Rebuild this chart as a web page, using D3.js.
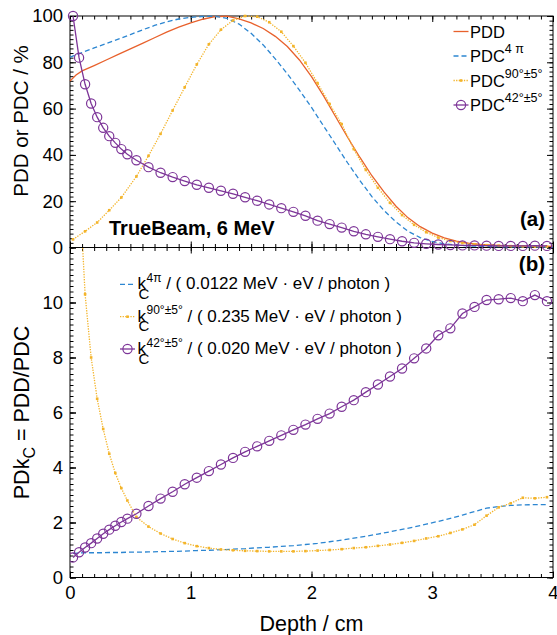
<!DOCTYPE html>
<html><head><meta charset="utf-8">
<script src="https://cdn.jsdelivr.net/npm/d3@7"></script>
<style>
body{margin:0;background:#fff}
svg{display:block;font-family:"Liberation Sans",Arial,Helvetica,sans-serif}
</style></head><body>
<svg id="c" width="557" height="635"></svg>
<script>
// ---------- data ----------
const depthLine=[0,0.05,0.1,0.2,0.3,0.4,0.5,0.6,0.7,0.8,0.9,1.0,1.1,1.2,1.3,1.4,1.5,1.6,1.7,1.8,1.9,2.0,2.1,2.2,2.3,2.4,2.5,2.6,2.7,2.8,2.9,3.0,3.1,3.2,3.3,3.4,3.5,3.6,3.8,4.0];
const pdd=[71.9,74.5,76.3,78.6,81.0,83.4,85.8,88.2,90.6,93.0,95.2,97.0,98.6,99.7,99.9,98.8,97.0,94.6,91.2,86.8,81.0,73.8,65.5,56.5,47.5,39.0,31.0,24.0,17.8,12.8,9.0,6.2,4.2,2.8,1.9,1.3,1.0,0.8,0.6,0.5];
const pdc4pi=[82.2,83.2,84.2,86.2,88.1,90.0,92.0,94.0,95.9,97.5,98.7,99.4,99.8,99.9,99.0,96.5,92.5,87.5,81.5,75.0,68.0,60.5,52.5,44.5,36.5,29.0,22.0,16.0,11.0,7.0,4.3,2.6,1.6,1.0,0.7,0.5,0.4,0.3,0.25,0.2];
const depth90=[0.025,0.125,0.225,0.325,0.425,0.55,0.65,0.75,0.85,0.95,1.05,1.15,1.25,1.35,1.45,1.55,1.65,1.75,1.85,1.95,2.05,2.15,2.25,2.35,2.45,2.55,2.65,2.75,2.85,2.95,3.05,3.15,3.25,3.35,3.45,3.55,3.65,3.75,3.85,3.95];
const pdc90=[3.5,7.0,10.8,16.1,21.6,30.7,39.6,49.1,59.2,69.2,79.1,87.8,94.1,98.1,100,99.7,97.3,93.2,87.0,79.8,71.0,62.0,53.3,42.5,33.5,25.8,19.3,14.0,9.8,6.6,4.3,2.8,1.9,1.4,1.0,0.8,0.6,0.5,0.4,0.4];
const depthBins=[0.025,0.075,0.125,0.175,0.225,0.275,0.325,0.375,0.425,0.475,0.55,0.65,0.75,0.85,0.95,1.05,1.15,1.25,1.35,1.45,1.55,1.65,1.75,1.85,1.95,2.05,2.15,2.25,2.35,2.45,2.55,2.65,2.75,2.85,2.95,3.05,3.15,3.25,3.35,3.45,3.55,3.65,3.75,3.85,3.95];
const pdc42=[100,82.0,70.5,62.2,56.3,51.7,48.1,45.2,42.5,40.3,37.7,34.7,32.3,30.4,28.7,27.1,25.8,24.5,23.2,21.7,20.2,18.6,17.0,15.4,13.7,11.6,10.1,8.6,7.0,5.7,4.6,3.6,2.7,2.0,1.6,1.3,1.1,0.9,0.9,0.8,0.7,0.7,0.7,0.8,0.7];
const k4pi=[0.88,0.89,0.9,0.9,0.9,0.9,0.91,0.91,0.91,0.92,0.92,0.93,0.94,0.95,0.96,0.98,0.99,1.01,1.03,1.05,1.08,1.1,1.13,1.16,1.2,1.24,1.3,1.36,1.43,1.5,1.58,1.66,1.75,1.84,1.94,2.04,2.15,2.27,2.4,2.52,2.58,2.62,2.64,2.65,2.65];
const k90=[22,14.5,10.3,8.0,6.5,5.4,4.5,3.8,3.25,2.8,2.2,1.85,1.6,1.4,1.25,1.14,1.07,1.02,0.99,0.97,0.96,0.95,0.95,0.95,0.96,0.98,1.0,1.03,1.07,1.1,1.15,1.2,1.26,1.33,1.42,1.5,1.62,1.75,1.92,2.25,2.55,2.7,2.9,2.88,2.92];
const k42=[0.73,0.92,1.09,1.25,1.42,1.59,1.74,1.88,2.02,2.14,2.32,2.60,2.87,3.12,3.39,3.63,3.87,4.11,4.35,4.57,4.77,4.97,5.17,5.37,5.56,5.77,5.96,6.21,6.45,6.74,7.02,7.31,7.60,7.97,8.33,8.81,9.06,9.60,9.84,10.09,10.12,10.16,10.05,10.27,10.05];
const xTicks=[0,1,2,3,4];
const yTopTicks=[0,20,40,60,80,100];
const yBotTicks=[0,2,4,6,8,10];
const topLegend=["PDD","PDC","PDC","PDC"];
const topLegendSup=["","4 \u03c0","90\u00b0\u00b15\u00b0","42\u00b0\u00b15\u00b0"];
const botLegendSup=["4\u03c0","90\u00b0\u00b15\u00b0","42\u00b0\u00b15\u00b0"];
const botLegendNorm=["0.0122","0.235","0.020"];

// ---------- layout ----------
const C={pdd:"#e8612c",blue:"#2c86d1",yel:"#f3b42a",pur:"#7d3598"};
const L=70,R=553,T1=16,B1=247.5,T2=247.5,B2=577.5;
const svg=d3.select("#c");
const x=d3.scaleLinear().domain([0,4]).range([L,R]);
const yA=d3.scaleLinear().domain([0,100]).range([B1,T1]);
const yB=d3.scaleLinear().domain([0,12]).range([B2,T2]);
const MAJ=6,MIN=3.5;

svg.append("defs").append("clipPath").attr("id","clipB")
  .append("rect").attr("x",L).attr("y",T2).attr("width",R-L).attr("height",B2-T2);

function axis(fn,scale,vals,size,tr,fmt,pad,fs){
  const a=fn(scale).tickValues(vals).tickSize(-size).tickPadding(pad||0).tickFormat(fmt||(()=>""));
  const g=svg.append("g").attr("transform",tr).call(a);
  g.select(".domain").remove();
  g.selectAll("line").attr("stroke","#000").attr("stroke-width",1);
  g.attr("font-family",null).attr("font-size",fs||18.5);
  g.selectAll("text").attr("fill","#000");
  return g;
}
const xMinor=d3.range(0,41).map(i=>i/10);
const yAMinor=d3.range(0,51).map(i=>i*2);
const yBMinor=d3.range(0,61).map(i=>i*0.2);
const yBMajor=[0,2,4,6,8,10,12];
// top panel
axis(d3.axisLeft,yA,yTopTicks,MAJ,`translate(${L},0)`,d3.format("d"),7);
axis(d3.axisLeft,yA,yAMinor,MIN,`translate(${L},0)`);
axis(d3.axisRight,yA,yTopTicks,MAJ,`translate(${R},0)`);
axis(d3.axisRight,yA,yAMinor,MIN,`translate(${R},0)`);
axis(d3.axisTop,x,xTicks,MAJ,`translate(0,${T1})`);
axis(d3.axisTop,x,xMinor,MIN,`translate(0,${T1})`);
axis(d3.axisBottom,x,xTicks,MAJ,`translate(0,${B1})`);
axis(d3.axisBottom,x,xMinor,MIN,`translate(0,${B1})`);
// bottom panel
axis(d3.axisLeft,yB,yBotTicks,MAJ,`translate(${L},0)`,d3.format("d"),7);
axis(d3.axisLeft,yB,yBMajor,MAJ,`translate(${L},0)`);
axis(d3.axisLeft,yB,yBMinor,MIN,`translate(${L},0)`);
axis(d3.axisRight,yB,yBMajor,MAJ,`translate(${R},0)`);
axis(d3.axisRight,yB,yBMinor,MIN,`translate(${R},0)`);
axis(d3.axisTop,x,xTicks,MAJ,`translate(0,${T2})`);
axis(d3.axisTop,x,xMinor,MIN,`translate(0,${T2})`);
axis(d3.axisBottom,x,xTicks,MAJ,`translate(0,${B2})`,d3.format("d"),8.4);
axis(d3.axisBottom,x,xMinor,MIN,`translate(0,${B2})`);

// frames
svg.append("rect").attr("x",L).attr("y",T1).attr("width",R-L).attr("height",B1-T1)
  .attr("fill","none").attr("stroke","#000").attr("stroke-width",1);
svg.append("rect").attr("x",L).attr("y",T2).attr("width",R-L).attr("height",B2-T2)
  .attr("fill","none").attr("stroke","#000").attr("stroke-width",1);

// ---------- series ----------
function series(xs,ys,yS,style,clip){
  const pts=xs.map((d,i)=>[d,ys[i]]);
  const g=svg.append("g");
  if(clip) g.attr("clip-path","url(#clipB)");
  g.append("path").datum(pts)
    .attr("d",d3.line().x(d=>x(d[0])).y(d=>yS(d[1])))
    .attr("fill","none").attr("stroke",style.color).attr("stroke-width",1.3)
    .attr("stroke-dasharray",style.dash||null);
  if(style.marker==="circle"){
    g.selectAll("circle").data(pts).join("circle")
      .attr("cx",d=>x(d[0])).attr("cy",d=>yS(d[1])).attr("r",4.6)
      .attr("fill","none").attr("stroke",style.color).attr("stroke-width",1.2);
  } else if(style.marker==="dot"){
    g.selectAll("rect").data(pts).join("rect")
      .attr("x",d=>x(d[0])-1.3).attr("y",d=>yS(d[1])-1.3).attr("width",2.6).attr("height",2.6)
      .attr("fill",style.color);
  }
}
const S={
  pdd:{color:C.pdd},
  blue:{color:C.blue,dash:"5,3"},
  yel:{color:C.yel,dash:"1.3,1.3",marker:"dot"},
  pur:{color:C.pur,marker:"circle"}
};
series(depthLine,pdd,yA,S.pdd);
series(depthLine,pdc4pi,yA,S.blue);
series(depth90,pdc90,yA,S.yel);
series(depthBins,pdc42,yA,S.pur);
series(depthBins,k4pi,yB,S.blue,true);
series(depthBins,k90,yB,S.yel,true);
series(depthBins,k42,yB,S.pur,true);

// ---------- legends ----------
function legendSym(cx,cy,style){
  svg.append("line").attr("x1",cx-7.5).attr("x2",cx+7.5).attr("y1",cy).attr("y2",cy)
    .attr("stroke",style.color).attr("stroke-width",1.3).attr("stroke-dasharray",style.dash||null);
  if(style.marker==="circle")
    svg.append("circle").attr("cx",cx).attr("cy",cy).attr("r",4.6).attr("fill","none")
      .attr("stroke",style.color).attr("stroke-width",1.2);
  if(style.marker==="dot")
    svg.append("rect").attr("x",cx-1.3).attr("y",cy-1.3).attr("width",2.6).attr("height",2.6).attr("fill",style.color);
}
const topStyles=[S.pdd,S.blue,S.yel,S.pur];
const topBase=[37.5,62,86.5,111];
topLegend.forEach((name,i)=>{
  legendSym(461,topBase[i]-6,topStyles[i]);
  const t=svg.append("text").attr("x",470).attr("y",topBase[i]).attr("font-size",16.5).attr("fill","#000");
  t.append("tspan").text(name);
  if(topLegendSup[i]) t.append("tspan").attr("dy",-9).attr("font-size",12.5).text(topLegendSup[i]);
});
const botStyles=[S.blue,S.yel,S.pur];
const botBase=[289.3,321.7,354];
botLegendSup.forEach((sup,i)=>{
  legendSym(127.5,botBase[i]-5,botStyles[i]);
  const t=svg.append("text").attr("x",137.5).attr("y",botBase[i]).attr("font-size",17).attr("fill","#000");
  t.append("tspan").text("k");
  t.append("tspan").attr("x",138.5).attr("dy",9.5).attr("font-size",15).text("C");
  t.append("tspan").attr("x",146.5).attr("dy",-17).attr("font-size",12).text(sup);
  t.append("tspan").attr("dy",7.5).text(` / ( ${botLegendNorm[i]} MeV \u00b7 eV / photon )`);
});

// ---------- labels ----------
svg.append("text").attr("x",109).attr("y",235).attr("font-size",20).attr("font-weight","bold").text("TrueBeam, 6 MeV");
svg.append("text").attr("x",545).attr("y",226).attr("font-size",20.5).attr("font-weight","bold").attr("text-anchor","end").text("(a)");
svg.append("text").attr("x",545).attr("y",271).attr("font-size",20.5).attr("font-weight","bold").attr("text-anchor","end").text("(b)");
svg.append("text").attr("transform","translate(28,121) rotate(-90)").attr("text-anchor","middle")
  .attr("font-size",20.5).text("PDD or PDC / %");
const yl=svg.append("text").attr("transform",`translate(29,${(T2+B2)/2}) rotate(-90)`).attr("text-anchor","middle").attr("font-size",21.5);
yl.append("tspan").text("PDk");
yl.append("tspan").attr("dy",6).attr("font-size",16).text("C");
yl.append("tspan").attr("dy",-6).text(" = PDD/PDC");
svg.append("text").attr("x",x(2)).attr("y",630.5).attr("text-anchor","middle").attr("font-size",21.5).text("Depth / cm");
</script>
</body></html>
